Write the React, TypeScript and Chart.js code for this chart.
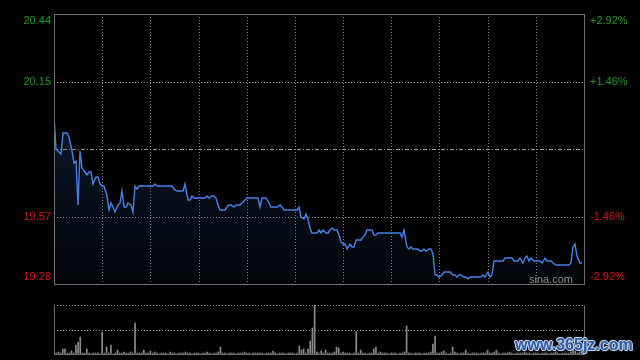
import React, { useEffect, useRef } from "react";
import { Chart, registerables } from "chart.js";
Chart.register(...registerables);

// ---- data ----
const prices: number[] = [
  20.0, 19.86, 19.85, 19.84, 19.93, 19.93, 19.93, 19.91, 19.85, 19.8,
  19.81, 19.62, 19.85, 19.78, 19.76, 19.75, 19.76, 19.76, 19.71, 19.74,
  19.74, 19.71, 19.7, 19.7, 19.66, 19.6, 19.63, 19.61, 19.59, 19.62,
  19.63, 19.68, 19.61, 19.61, 19.63, 19.62, 19.59, 19.7, 19.69, 19.7,
  19.7, 19.7, 19.7, 19.7, 19.7, 19.7, 19.71, 19.7, 19.7, 19.7,
  19.7, 19.7, 19.7, 19.7, 19.7, 19.69, 19.68, 19.68, 19.68, 19.68,
  19.71, 19.64, 19.64, 19.66, 19.65, 19.65, 19.65, 19.65, 19.65, 19.65,
  19.66, 19.65, 19.66, 19.66, 19.65, 19.62, 19.6, 19.6, 19.6, 19.61,
  19.62, 19.62, 19.61, 19.62, 19.62, 19.62, 19.63, 19.64, 19.65, 19.65,
  19.65, 19.65, 19.65, 19.65, 19.61, 19.65, 19.65, 19.65, 19.63, 19.61,
  19.61, 19.61, 19.61, 19.62, 19.61, 19.6, 19.6, 19.6, 19.6, 19.6,
  19.6, 19.6, 19.61, 19.57, 19.56, 19.58, 19.56, 19.52, 19.5, 19.5,
  19.5, 19.51, 19.5, 19.51, 19.5, 19.5, 19.51, 19.52, 19.51, 19.51,
  19.49, 19.46, 19.45, 19.45, 19.43, 19.45, 19.44, 19.44, 19.47, 19.47,
  19.47, 19.48, 19.49, 19.51, 19.51, 19.51, 19.49, 19.49, 19.5, 19.5,
  19.5, 19.5, 19.5, 19.5, 19.5, 19.5, 19.5, 19.5, 19.5, 19.48,
  19.51, 19.44, 19.43, 19.44, 19.43, 19.43, 19.43, 19.42, 19.42, 19.43,
  19.42, 19.43, 19.43, 19.41, 19.32, 19.32, 19.31, 19.32, 19.33, 19.33,
  19.33, 19.33, 19.32, 19.32, 19.31, 19.32, 19.32, 19.31, 19.31, 19.3,
  19.31, 19.31, 19.31, 19.31, 19.31, 19.31, 19.32, 19.31, 19.33, 19.31,
  19.32, 19.38, 19.38, 19.38, 19.38, 19.38, 19.39, 19.39, 19.39, 19.39,
  19.38, 19.38, 19.38, 19.39, 19.37, 19.39, 19.4, 19.38, 19.39, 19.38,
  19.38, 19.38, 19.38, 19.37, 19.39, 19.38, 19.38, 19.38, 19.37, 19.36,
  19.36, 19.36, 19.36, 19.36, 19.36, 19.36, 19.37, 19.44, 19.45, 19.4,
  19.37, 19.37,
];

const volumes: number[] = [
  3, 2, 4, 2, 11, 11, 2, 3, 7, 2, 19, 25, 35, 3, 2, 11, 2, 1, 3, 2,
  3, 1, 45, 3, 15, 2, 19, 1, 2, 9, 3, 2, 4, 3, 2, 5, 2, 63, 2, 3,
  2, 9, 3, 2, 7, 2, 4, 3, 1, 2, 3, 2, 1, 5, 2, 3, 1, 2, 2, 3,
  4, 3, 2, 1, 2, 3, 2, 1, 2, 3, 4, 2, 1, 2, 3, 4, 15, 3, 2, 1,
  2, 3, 2, 1, 2, 2, 3, 4, 3, 2, 1, 2, 3, 2, 3, 2, 1, 2, 3, 2,
  7, 2, 1, 2, 3, 2, 1, 2, 3, 2, 1, 3, 17, 8, 11, 3, 11, 26, 53, 100,
  5, 2, 7, 3, 9, 2, 3, 2, 5, 15, 12, 3, 4, 2, 3, 2, 1, 3, 45, 2,
  9, 3, 2, 1, 2, 3, 11, 15, 3, 4, 2, 3, 2, 1, 2, 3, 2, 1, 2, 3,
  4, 57, 3, 2, 1, 2, 3, 2, 1, 2, 3, 2, 4, 21, 37, 3, 2, 4, 7, 2,
  1, 3, 15, 4, 2, 1, 2, 3, 9, 2, 1, 2, 3, 2, 1, 2, 3, 2, 9, 2,
  3, 4, 9, 2, 1, 2, 3, 2, 4, 2, 1, 3, 2, 3, 2, 4, 3, 2, 1, 2,
  3, 2, 1, 2, 3, 2, 1, 2, 3, 4, 2, 1, 2, 3, 2, 2, 4, 12, 6, 3,
  5, 4,
];

const prevClose = 19.86;
const priceTicks = [19.28, 19.57, 19.86, 20.15, 20.44];
const priceLabels = ["19.28", "19.57", "", "20.15", "20.44"];
const pctLabels = ["-2.92%", "-1.46%", "", "+1.46%", "+2.92%"];
const volTicks = [0, 50, 100];
const X_MAX = 242;
const X_STEP = 22;
const siteMark = "sina.com";
const overlayMark = "www.365jz.com";

const GREEN = "#1d9e1d";
const RED = "#dd1515";
const GRID = "#8a8a8a";
const FRAME = "#707070";
const FONT = "'Liberation Sans', Arial, sans-serif";

const edgeLabel = (labels: string[]) => (_v: any, i: number) => {
  const l = labels[i];
  if (i === 0) return [l, ""];
  if (i === labels.length - 1) return ["", l];
  return l;
};

const fixWidth = (w: number) => (s: any) => {
  s.width = w;
  s.paddingTop = 0;
  s.paddingBottom = 0;
  s.paddingLeft = 0;
  s.paddingRight = 0;
};

const fixHeight = (s: any) => {
  s.height = 0;
  s.paddingTop = 0;
  s.paddingBottom = 0;
  s.paddingLeft = 0;
  s.paddingRight = 0;
};

const mainFrame = {
  id: "mainFrame",
  afterDraw(chart: any) {
    const { ctx, chartArea: a } = chart;
    ctx.save();
    ctx.strokeStyle = FRAME;
    ctx.lineWidth = 1;
    ctx.strokeRect(Math.round(a.left) + 0.5, Math.round(a.top) + 0.5, Math.round(a.right - a.left), Math.round(a.bottom - a.top));
    ctx.fillStyle = "#8e8e8e";
    ctx.font = `11px ${FONT}`;
    ctx.textAlign = "right";
    ctx.textBaseline = "alphabetic";
    ctx.fillText(siteMark, a.right - 11, a.bottom - 1.5);
    ctx.restore();
  },
};

const volFrame = {
  id: "volFrame",
  afterDraw(chart: any) {
    const { ctx, chartArea: a } = chart;
    const l = Math.round(a.left) + 0.5;
    const r = Math.round(a.right) + 0.5;
    const t = Math.round(a.top) + 0.5;
    const b = Math.round(a.bottom) + 0.5;
    ctx.save();
    ctx.strokeStyle = FRAME;
    ctx.lineWidth = 1;
    ctx.beginPath();
    ctx.moveTo(l, t);
    ctx.lineTo(l, b);
    ctx.lineTo(r, b);
    ctx.lineTo(r, t);
    ctx.stroke();
    ctx.restore();
  },
};

export default function App() {
  const mainRef = useRef<HTMLCanvasElement>(null);
  const volRef = useRef<HTMLCanvasElement>(null);

  useEffect(() => {
    const main = new Chart(mainRef.current as HTMLCanvasElement, {
      type: "line",
      data: {
        datasets: [
          {
            data: prices.map((p, i) => ({ x: i, y: p })),
            borderColor: "#4483e6",
            borderWidth: 1.4,
            pointRadius: 0,
            tension: 0,
            fill: "start",
            backgroundColor: (ctx: any) => {
              const { chart } = ctx;
              const a = chart.chartArea;
              if (!a) return "rgba(0,0,0,0)";
              const g = chart.ctx.createLinearGradient(0, a.top, 0, a.bottom);
              g.addColorStop(0, "rgba(40,80,140,0.45)");
              g.addColorStop(1, "rgba(40,80,140,0.05)");
              return g;
            },
          },
        ],
      },
      options: {
        animation: false,
        responsive: false,
        devicePixelRatio: 1,
        layout: { padding: { top: 14, bottom: 16, left: 0, right: 0 } },
        plugins: { legend: { display: false }, tooltip: { enabled: false } },
        scales: {
          x: {
            type: "linear",
            min: 0,
            max: X_MAX,
            alignToPixels: true,
            afterBuildTicks: (s: any) => {
              const t = [];
              for (let v = 0; v <= X_MAX; v += X_STEP) t.push({ value: v });
              s.ticks = t;
            },
            ticks: { display: false },
            grid: {
              drawTicks: false,
              color: (c: any) => (c.tick && (c.tick.value === 0 || c.tick.value === X_MAX) ? "rgba(0,0,0,0)" : GRID),
            },
            border: { display: false, dash: [1, 2] },
            afterFit: fixHeight,
          },
          y: {
            position: "left",
            min: priceTicks[0],
            max: priceTicks[priceTicks.length - 1],
            alignToPixels: true,
            afterBuildTicks: (s: any) => {
              s.ticks = priceTicks.map((v) => ({ value: v }));
            },
            ticks: {
              callback: edgeLabel(priceLabels) as any,
              color: (c: any) => (c.tick && c.tick.value > prevClose ? GREEN : RED),
              font: { family: FONT, size: 11 },
              padding: 3,
            },
            grid: {
              drawTicks: false,
              color: (c: any) => {
                if (!c.tick) return GRID;
                const v = c.tick.value;
                if (v === priceTicks[0] || v === priceTicks[priceTicks.length - 1]) return "rgba(0,0,0,0)";
                if (Math.abs(v - prevClose) < 1e-6) return "#9a9a9a";
                return GRID;
              },
            },
            border: {
              display: false,
              dash: (c: any) => (c.tick && Math.abs(c.tick.value - prevClose) < 1e-6 ? [4, 2, 1, 2] : [1, 2]),
            } as any,
            afterFit: fixWidth(54),
          },
          y1: {
            position: "right",
            min: priceTicks[0],
            max: priceTicks[priceTicks.length - 1],
            afterBuildTicks: (s: any) => {
              s.ticks = priceTicks.map((v) => ({ value: v }));
            },
            ticks: {
              callback: edgeLabel(pctLabels) as any,
              color: (c: any) => (c.tick && c.tick.value > prevClose ? GREEN : RED),
              font: { family: FONT, size: 11 },
              padding: 6,
            },
            grid: { display: false, drawTicks: false },
            border: { display: false },
            afterFit: fixWidth(56),
          },
        },
      } as any,
      plugins: [mainFrame],
    });

    const vol = new Chart(volRef.current as HTMLCanvasElement, {
      type: "bar",
      data: {
        datasets: [
          {
            data: volumes.map((v, i) => ({ x: i, y: v })),
            backgroundColor: "#8c8c8c",
            barThickness: 1,
            borderWidth: 0,
          },
        ],
      },
      options: {
        animation: false,
        responsive: false,
        devicePixelRatio: 1,
        layout: { padding: { top: 15, bottom: 6, left: 0, right: 56 } },
        plugins: { legend: { display: false }, tooltip: { enabled: false } },
        scales: {
          x: {
            type: "linear",
            min: 0,
            max: X_MAX,
            offset: false,
            ticks: { display: false },
            grid: { display: false, drawTicks: false },
            border: { display: false },
            afterFit: fixHeight,
          },
          y: {
            position: "left",
            min: 0,
            max: 100,
            alignToPixels: true,
            afterBuildTicks: (s: any) => {
              s.ticks = volTicks.map((v) => ({ value: v }));
            },
            ticks: { display: false },
            grid: {
              drawTicks: false,
              color: (c: any) => (c.tick && c.tick.value === 0 ? "rgba(0,0,0,0)" : GRID),
            },
            border: { display: false, dash: [1, 2] },
            afterFit: fixWidth(54),
          },
        },
      } as any,
      plugins: [volFrame],
    });

    return () => {
      main.destroy();
      vol.destroy();
    };
  }, []);

  return (
    <div style={{ position: "absolute", left: 0, top: 0, width: 640, height: 360, background: "#000", overflow: "hidden" }}>
      <canvas ref={mainRef} width={640} height={300} style={{ position: "absolute", left: 0, top: 0, width: 640, height: 300 }} />
      <canvas ref={volRef} width={640} height={70} style={{ position: "absolute", left: 0, top: 290, width: 640, height: 70 }} />
      <div
        style={{
          position: "absolute",
          left: 515,
          top: 336,
          font: `bold 16px ${FONT}`,
          color: "#2a5cab",
          letterSpacing: 0,
          textShadow:
            "1px 0 0 #c9d3e3, -1px 0 0 #c9d3e3, 0 1px 0 #c9d3e3, 0 -1px 0 #c9d3e3, 1px 1px 1px #aab6c8, -1px -1px 1px #aab6c8",
          whiteSpace: "nowrap",
        }}
      >
        {overlayMark}
      </div>
    </div>
  );
}
